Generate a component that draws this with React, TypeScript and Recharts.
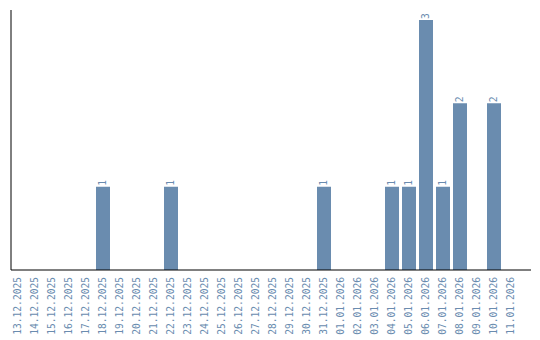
import React from 'react';
import { BarChart, Bar, XAxis, YAxis, LabelList } from 'recharts';

const dates = [
  '13.12.2025', '14.12.2025', '15.12.2025', '16.12.2025', '17.12.2025', '18.12.2025',
  '19.12.2025', '20.12.2025', '21.12.2025', '22.12.2025', '23.12.2025', '24.12.2025',
  '25.12.2025', '26.12.2025', '27.12.2025', '28.12.2025', '29.12.2025', '30.12.2025',
  '31.12.2025', '01.01.2026', '02.01.2026', '03.01.2026', '04.01.2026', '05.01.2026',
  '06.01.2026', '07.01.2026', '08.01.2026', '09.01.2026', '10.01.2026', '11.01.2026',
];
const counts = [
  0, 0, 0, 0, 0, 1,
  0, 0, 0, 1, 0, 0,
  0, 0, 0, 0, 0, 0,
  1, 0, 0, 0, 1, 1,
  3, 1, 2, 0, 2, 0,
];

const data = dates.map((d, i) => ({ date: d, count: counts[i] }));

const COLOR = '#6a8caf';
const FONT = '"DejaVu Sans Mono", monospace';

// rotated date tick
const DateTick = ({ x, payload }: any) => (
  <text
    x={0}
    y={0}
    dy="0.35em"
    textAnchor="end"
    fill={COLOR}
    fontSize={9.6}
    fontFamily={FONT}
    transform={`translate(${x},277) rotate(-90)`}
  >
    {payload.value}
  </text>
);

// value label above each bar, rotated
const ValueLabel = ({ x, y, width, value }: any) => {
  if (!value) return null;
  const cx = x + width / 2;
  return (
    <text
      x={0}
      y={0}
      dy="0.35em"
      textAnchor="start"
      fill={COLOR}
      fontSize={9.6}
      fontFamily={FONT}
      transform={`translate(${cx},${y - 1}) rotate(-90)`}
    >
      {value}
    </text>
  );
};

export default function App() {
  return (
    <div style={{ position: 'absolute', left: 0, top: 0 }}>
      <BarChart
        width={540}
        height={340}
        data={data}
        margin={{ top: 10, right: 9, left: 10, bottom: 0 }}
      >
        <XAxis
          dataKey="date"
          interval={0}
          height={70}
          tickLine={false}
          axisLine={{ stroke: '#000', strokeWidth: 1 }}
          tick={<DateTick />}
          padding={{ left: -2, right: 12 }}
        />
        <YAxis
          width={1}
          domain={[0, 3.12]}
          tick={false}
          tickLine={false}
          axisLine={{ stroke: '#000', strokeWidth: 1 }}
        />
        <Bar dataKey="count" fill={COLOR} barSize={14} isAnimationActive={false}>
          <LabelList dataKey="count" content={<ValueLabel />} />
        </Bar>
      </BarChart>
    </div>
  );
}
